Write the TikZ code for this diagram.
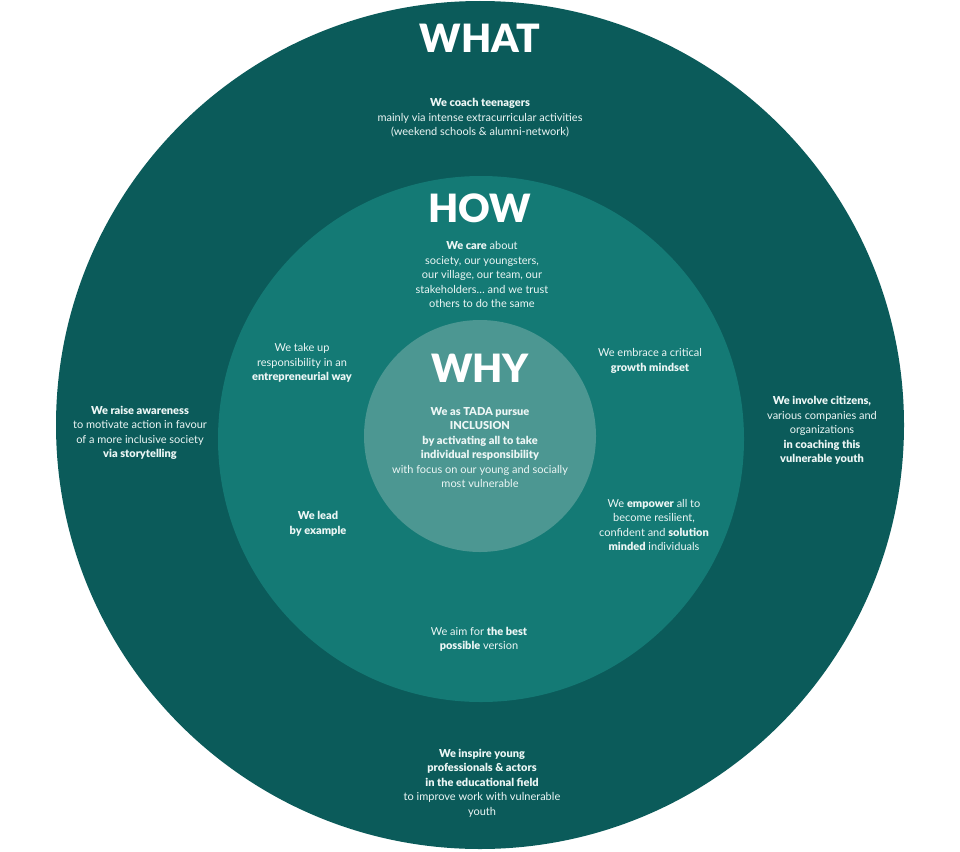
\documentclass[tikz,border=0pt]{standalone}
\usepackage{fontspec}
\setmainfont{Lato}[BoldFont={Lato Black}]
\usepackage{tikz}
\usetikzlibrary{positioning}
\definecolor{whatteal}{RGB}{11, 91, 90}
\definecolor{howteal}{RGB}{20, 122, 117}
\definecolor{whyteal}{RGB}{76, 151, 146}
\definecolor{softwhite}{RGB}{236, 246, 245}

\begin{document}
\begin{tikzpicture}[x=1pt, y=-1pt,
    every node/.style={text=softwhite, align=center, font=\fontsize{11}{14.5}\selectfont},
    title/.style={text=white, font=\fontsize{39}{39}\selectfont\bfseries}]
    % Canvas
    \fill[white] (0,0) rectangle (960,851);
    \useasboundingbox (0,0) rectangle (960,851);

    % Rings
    \fill[whatteal] (480,425) circle[radius=424];
    \fill[howteal] (481,439) circle[radius=263];
    \fill[whyteal] (480,436) circle[radius=116];

    % Titles
    \node[title] (what) at (480,38) {WHAT};
    \node[title] (how) at (480,208) {HOW};
    \node[title] (why) at (480,368) {WHY};

    % WHAT ring
    \node (coach) at (480,118) {\textbf{We coach teenagers}\\mainly via intense extracurricular activities\\(weekend schools \& alumni-network)};
    \node (raise) at (140,433) {\textbf{We raise awareness}\\to motivate action in favour\\of a more inclusive society\\\textbf{via storytelling}};
    \node (involve) at (822,430.5) {\textbf{We involve citizens,}\\various companies and\\organizations\\\textbf{in coaching this}\\\textbf{vulnerable youth}};
    \node (inspire) at (482,783) {\textbf{We inspire young}\\\textbf{professionals \& actors}\\\textbf{in the educational field}\\to improve work with vulnerable\\youth};

    % HOW ring
    \node (care) at (482,274.5) {\textbf{We care} about\\society, our youngsters,\\our village, our team, our\\stakeholders\dots\ and we trust\\others to do the same};
    \node (takeup) at (302,363) {We take up\\responsibility in an\\\textbf{entrepreneurial way}};
    \node (embrace) at (650,361) {We embrace a critical\\\textbf{growth mindset}};
    \node (lead) at (318,524) {\textbf{We lead}\\\textbf{by example}};
    \node (empower) at (654,525) {We \textbf{empower} all to\\become resilient,\\confident and \textbf{solution}\\\textbf{minded} individuals};
    \node (aim) at (479,639.5) {We aim for \textbf{the best}\\\textbf{possible} version};

    % WHY core
    \node (tada) at (480,447.5) {\textbf{We as TADA pursue}\\\textbf{INCLUSION}\\\textbf{by activating all to take}\\\textbf{individual responsibility}\\with focus on our young and socially\\most vulnerable};
\end{tikzpicture}
\end{document}
